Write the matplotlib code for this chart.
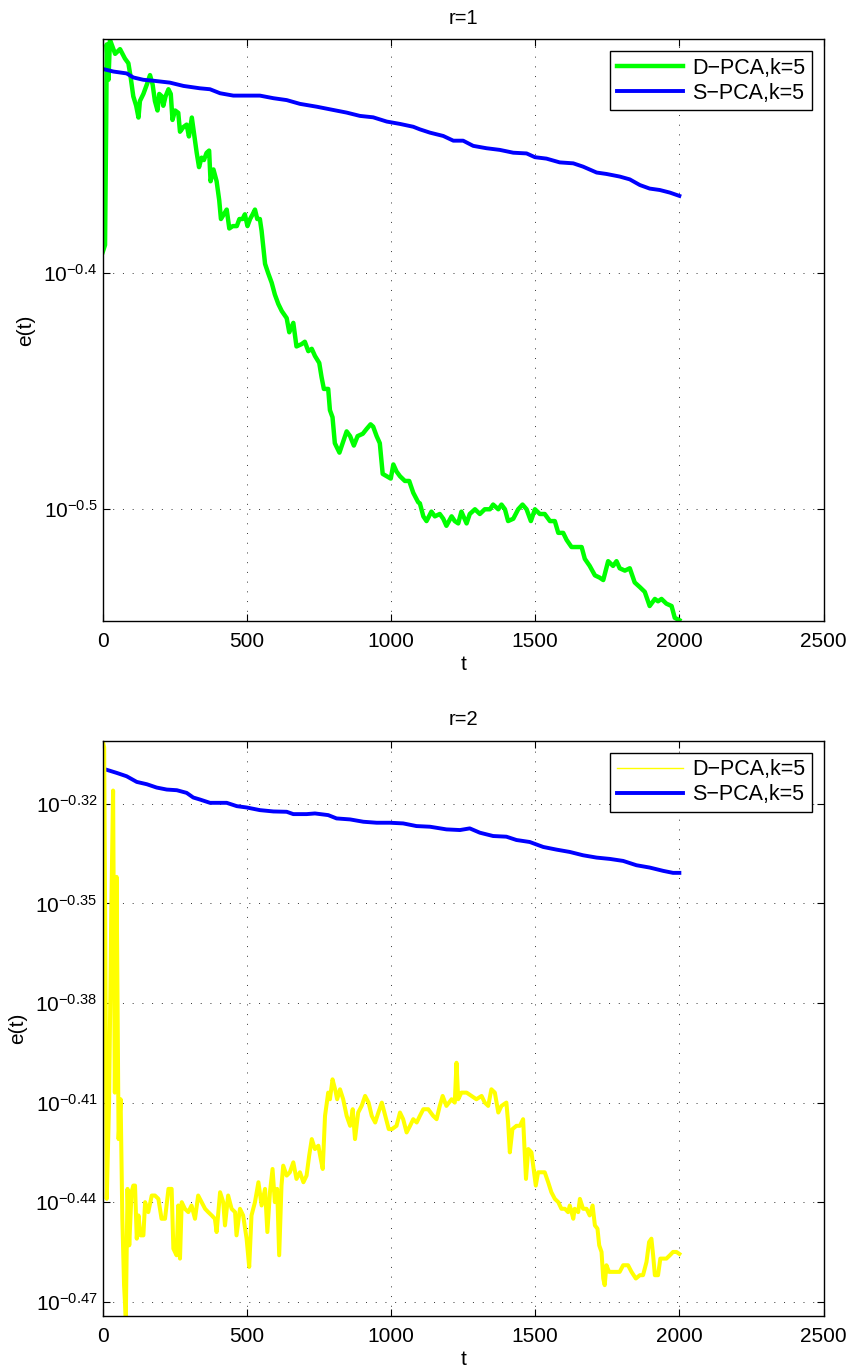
import numpy as np
import matplotlib
matplotlib.use("Agg")
import matplotlib.pyplot as plt
from matplotlib.lines import Line2D
from matplotlib.ticker import FixedLocator, NullLocator, FixedFormatter

# ── Data (values read as log10 e(t)) ─────────────────────────────────────────
t_dpca_r1 = [0, 8, 12, 14, 20, 25, 43, 60, 77, 89, 97, 106, 116, 124, 129, 141, 153, 164, 173, 181,
             190, 196, 205, 210, 218, 228, 236, 242, 251, 262, 268, 280, 291, 299, 309, 317, 326, 334,
             343, 351, 360, 369, 374, 384, 395, 404, 410, 420, 430, 439, 451, 465, 474, 485, 493, 502,
             511, 520, 528, 536, 545, 551, 557, 563, 574, 586, 597, 609, 621, 638, 647, 661, 672, 690,
             701, 713, 725, 736, 751, 759, 767, 782, 788, 797, 805, 821, 832, 846, 858, 871, 884, 902,
             915, 929, 938, 950, 961, 971, 985, 999, 1008, 1019, 1031, 1048, 1063, 1077, 1094, 1100,
             1112, 1123, 1140, 1152, 1169, 1181, 1192, 1210, 1221, 1233, 1244, 1262, 1273, 1291, 1308,
             1325, 1343, 1354, 1372, 1383, 1395, 1406, 1424, 1441, 1456, 1470, 1485, 1499, 1516, 1533,
             1551, 1568, 1580, 1597, 1609, 1626, 1643, 1661, 1672, 1689, 1707, 1724, 1736, 1753, 1770,
             1782, 1793, 1811, 1828, 1845, 1863, 1880, 1897, 1915, 1926, 1938, 1955, 1973, 1984, 2000]
log_dpca_r1 = [-0.391, -0.388, -0.336, -0.303, -0.318, -0.301, -0.307, -0.305, -0.309, -0.311, -0.317,
               -0.325, -0.329, -0.334, -0.327, -0.324, -0.320, -0.316, -0.320, -0.327, -0.331, -0.324,
               -0.325, -0.329, -0.325, -0.322, -0.324, -0.335, -0.331, -0.332, -0.340, -0.338, -0.337,
               -0.342, -0.334, -0.341, -0.349, -0.355, -0.351, -0.352, -0.349, -0.348, -0.361, -0.356,
               -0.361, -0.369, -0.377, -0.375, -0.373, -0.381, -0.380, -0.380, -0.377, -0.377, -0.375,
               -0.380, -0.377, -0.375, -0.373, -0.377, -0.377, -0.382, -0.389, -0.396, -0.400, -0.404,
               -0.409, -0.413, -0.416, -0.419, -0.425, -0.421, -0.431, -0.430, -0.429, -0.433, -0.432,
               -0.435, -0.438, -0.444, -0.449, -0.449, -0.458, -0.461, -0.472, -0.476, -0.472, -0.467,
               -0.469, -0.473, -0.469, -0.468, -0.466, -0.464, -0.465, -0.469, -0.472, -0.485, -0.486,
               -0.487, -0.481, -0.484, -0.486, -0.488, -0.488, -0.493, -0.497, -0.4975, -0.503, -0.505,
               -0.501, -0.503, -0.502, -0.504, -0.507, -0.503, -0.505, -0.506, -0.501, -0.506, -0.502,
               -0.500, -0.502, -0.500, -0.500, -0.498, -0.500, -0.498, -0.500, -0.505, -0.504, -0.500,
               -0.498, -0.500, -0.505, -0.500, -0.502, -0.502, -0.505, -0.505, -0.510, -0.510, -0.513,
               -0.516, -0.516, -0.516, -0.521, -0.524, -0.528, -0.529, -0.530, -0.522, -0.524, -0.522,
               -0.525, -0.526, -0.525, -0.531, -0.533, -0.535, -0.541, -0.538, -0.539, -0.538, -0.540,
               -0.541, -0.546, -0.547]

t_spca_r1 = [0, 37, 83, 106, 141, 176, 233, 280, 337, 372, 407, 453, 499, 545, 592, 638, 684, 742,
             800, 846, 892, 938, 985, 1031, 1077, 1100, 1135, 1181, 1216, 1250, 1285, 1331, 1377, 1424,
             1470, 1499, 1539, 1585, 1632, 1666, 1713, 1747, 1793, 1828, 1863, 1897, 1932, 1967, 2000]
log_spca_r1 = [-0.3134, -0.3145, -0.3153, -0.3170, -0.3180, -0.3184, -0.3192, -0.3206, -0.3216,
               -0.3220, -0.3237, -0.3247, -0.3247, -0.3247, -0.3258, -0.3266, -0.3282, -0.3294,
               -0.3308, -0.3319, -0.3333, -0.3339, -0.3357, -0.3367, -0.3379, -0.3390, -0.3404,
               -0.3418, -0.3438, -0.3438, -0.3460, -0.3470, -0.3477, -0.3489, -0.3492, -0.3508,
               -0.3514, -0.3530, -0.3534, -0.3548, -0.3573, -0.3579, -0.3590, -0.3602, -0.3626,
               -0.3641, -0.3647, -0.3658, -0.3672]

t_dpca_r2 = [0, 5, 14, 22, 30, 36, 42, 48, 55, 62, 68, 74, 80, 86, 92, 100, 106, 112, 118, 124, 131,
             141, 147, 158, 170, 181, 193, 204, 216, 228, 239, 245, 256, 262, 268, 274, 285, 297, 308,
             320, 331, 343, 355, 366, 378, 389, 395, 407, 418, 424, 435, 447, 459, 464, 476, 487, 499,
             508, 516, 528, 540, 551, 563, 571, 580, 589, 597, 605, 612, 620, 626, 638, 649, 661, 672,
             684, 696, 707, 716, 725, 736, 748, 754, 763, 771, 782, 788, 797, 806, 813, 823, 834, 846,
             858, 867, 875, 886, 898, 910, 922, 933, 945, 956, 968, 980, 992, 1003, 1019, 1031, 1042,
             1054, 1066, 1077, 1089, 1100, 1112, 1129, 1146, 1158, 1169, 1179, 1192, 1210, 1221, 1227,
             1233, 1244, 1262, 1279, 1296, 1314, 1325, 1337, 1348, 1360, 1372, 1383, 1400, 1406, 1412,
             1421, 1435, 1447, 1458, 1468, 1476, 1487, 1493, 1502, 1510, 1522, 1533, 1545, 1556, 1568,
             1580, 1591, 1603, 1614, 1620, 1632, 1637, 1649, 1655, 1666, 1678, 1689, 1699, 1707, 1716,
             1722, 1730, 1736, 1741, 1747, 1756, 1770, 1782, 1793, 1805, 1822, 1834, 1849, 1863, 1874,
             1886, 1895, 1903, 1909, 1915, 1926, 1934, 1944, 1955, 1967, 1978, 1990, 2000]
log_dpca_r2 = [-0.301, -0.303, -0.439, -0.410, -0.350, -0.316, -0.407, -0.342, -0.421, -0.409, -0.445,
               -0.465, -0.475, -0.436, -0.453, -0.437, -0.435, -0.435, -0.451, -0.444, -0.450, -0.450,
               -0.440, -0.443, -0.438, -0.438, -0.439, -0.445, -0.445, -0.436, -0.436, -0.454, -0.456,
               -0.441, -0.457, -0.440, -0.442, -0.443, -0.441, -0.445, -0.438, -0.440, -0.442, -0.443,
               -0.444, -0.445, -0.449, -0.437, -0.440, -0.447, -0.438, -0.442, -0.443, -0.450, -0.442,
               -0.444, -0.451, -0.4595, -0.444, -0.440, -0.434, -0.441, -0.436, -0.449, -0.437, -0.430,
               -0.440, -0.436, -0.456, -0.435, -0.429, -0.432, -0.431, -0.428, -0.433, -0.431, -0.434,
               -0.432, -0.426, -0.421, -0.424, -0.423, -0.426, -0.430, -0.414, -0.407, -0.409, -0.403,
               -0.406, -0.409, -0.406, -0.409, -0.414, -0.417, -0.412, -0.421, -0.413, -0.411, -0.408,
               -0.410, -0.414, -0.416, -0.413, -0.410, -0.414, -0.418, -0.418, -0.417, -0.413, -0.415,
               -0.419, -0.417, -0.415, -0.416, -0.414, -0.412, -0.412, -0.414, -0.415, -0.411, -0.408,
               -0.411, -0.409, -0.410, -0.398, -0.409, -0.407, -0.407, -0.408, -0.409, -0.408, -0.410,
               -0.411, -0.406, -0.407, -0.413, -0.411, -0.410, -0.416, -0.425, -0.418, -0.417, -0.417,
               -0.415, -0.433, -0.424, -0.425, -0.429, -0.435, -0.431, -0.431, -0.431, -0.434, -0.437,
               -0.439, -0.440, -0.442, -0.442, -0.443, -0.441, -0.445, -0.442, -0.443, -0.439, -0.442,
               -0.442, -0.444, -0.441, -0.447, -0.448, -0.453, -0.455, -0.463, -0.465, -0.459, -0.461,
               -0.461, -0.461, -0.461, -0.459, -0.459, -0.461, -0.463, -0.462, -0.462, -0.458, -0.452,
               -0.451, -0.456, -0.462, -0.462, -0.457, -0.457, -0.457, -0.456, -0.455, -0.455, -0.4556]

t_spca_r2 = [1, 12, 49, 83, 118, 153, 187, 222, 257, 291, 314, 337, 372, 430, 465, 499, 545, 592, 638,
             661, 707, 736, 782, 811, 858, 904, 950, 996, 1042, 1088, 1135, 1192, 1239, 1273, 1308, 1354,
             1400, 1435, 1481, 1528, 1574, 1620, 1666, 1713, 1759, 1805, 1851, 1897, 1944, 1978, 2000]
log_spca_r2 = [-0.3095, -0.3097, -0.3107, -0.3117, -0.3134, -0.3141, -0.3151, -0.3157, -0.3159,
               -0.3167, -0.3181, -0.3187, -0.3197, -0.3197, -0.3207, -0.3211, -0.3219, -0.3223,
               -0.3224, -0.3231, -0.3231, -0.3229, -0.3234, -0.3244, -0.3247, -0.3254, -0.3257,
               -0.3257, -0.3259, -0.3267, -0.3269, -0.3277, -0.3279, -0.3274, -0.3287, -0.3297,
               -0.3299, -0.3309, -0.3315, -0.3330, -0.3338, -0.3345, -0.3355, -0.3362, -0.3366,
               -0.3372, -0.3385, -0.3392, -0.3402, -0.3408, -0.3408]

ylim_r1 = (-0.5472, -0.3008)
ylim_r2 = (-0.4743, -0.3010)
yticks_r1 = [-0.5, -0.4]
yticks_r2 = [-0.47, -0.44, -0.41, -0.38, -0.35, -0.32]
xticks = [0, 500, 1000, 1500, 2000, 2500]

# ── Style ─────────────────────────────────────────────────────────────────────
plt.rcParams["font.family"] = ["Liberation Sans", "DejaVu Sans"]
plt.rcParams["font.size"] = 15
plt.rcParams["mathtext.fontset"] = "custom"
plt.rcParams["mathtext.rm"] = "Liberation Sans"
plt.rcParams["mathtext.it"] = "Liberation Sans:italic"
plt.rcParams["mathtext.bf"] = "Liberation Sans:bold"

fig = plt.figure(figsize=(8.49, 13.71), dpi=100)
ax1 = fig.add_axes([0.121, 0.5473, 0.849, 0.4241])
ax2 = fig.add_axes([0.121, 0.0401, 0.849, 0.4196])


def style_axes(ax, title, ylim, yticks):
    ax.set_yscale("log")
    ax.set_xlim(0, 2500)
    ax.set_ylim(10 ** ylim[0], 10 ** ylim[1])
    ax.xaxis.set_major_locator(FixedLocator(xticks))
    ax.yaxis.set_major_locator(FixedLocator([10 ** v for v in yticks]))
    ax.yaxis.set_major_formatter(FixedFormatter([r"$10^{%g}$" % v for v in yticks]))
    ax.yaxis.set_minor_locator(NullLocator())
    ax.xaxis.set_minor_locator(NullLocator())
    ax.tick_params(direction="in", top=True, right=True, length=5, width=0.8)
    ax.tick_params(axis="x", pad=8)
    ax.tick_params(axis="y", pad=4)
    ax.grid(True, color="0.2", linestyle=(0, (1, 9)), linewidth=0.7)
    for s in ax.spines.values():
        s.set_linewidth(1.0)
    ax.set_title(title, fontsize=14.5, pad=11)
    ax.set_xlabel("t", labelpad=3)
    ax.set_ylabel("e(t)", labelpad=6)


leg_kw = dict(loc="upper right", fancybox=False, framealpha=1, edgecolor="k",
              borderaxespad=0.55, handlelength=3.1, handletextpad=0.4,
              labelspacing=0.2, borderpad=0.3, fontsize=15.5)

# ── r = 1 ─────────────────────────────────────────────────────────────────────
g, = ax1.plot(t_dpca_r1, 10 ** np.array(log_dpca_r1), color=(0, 1, 0), lw=3.2,
              label="D\u2212PCA,k=5")
b, = ax1.plot(t_spca_r1, 10 ** np.array(log_spca_r1), color=(0, 0, 1), lw=2.8,
              label="S\u2212PCA,k=5")
style_axes(ax1, "r=1", ylim_r1, yticks_r1)
ax1.legend(handles=[g, b], **leg_kw).get_frame().set_linewidth(1.0)

# ── r = 2 ─────────────────────────────────────────────────────────────────────
ax2.plot(t_spca_r2, 10 ** np.array(log_spca_r2), color=(0, 0, 1), lw=2.8)
ax2.plot(t_dpca_r2, 10 ** np.array(log_dpca_r2), color=(1, 1, 0), lw=2.9)
style_axes(ax2, "r=2", ylim_r2, yticks_r2)
handles = [Line2D([], [], color=(1, 1, 0), lw=1.0, label="D\u2212PCA,k=5"),
           Line2D([], [], color=(0, 0, 1), lw=2.8, label="S\u2212PCA,k=5")]
ax2.legend(handles=handles, **leg_kw).get_frame().set_linewidth(1.0)

fig.savefig("out.png", dpi=100)
